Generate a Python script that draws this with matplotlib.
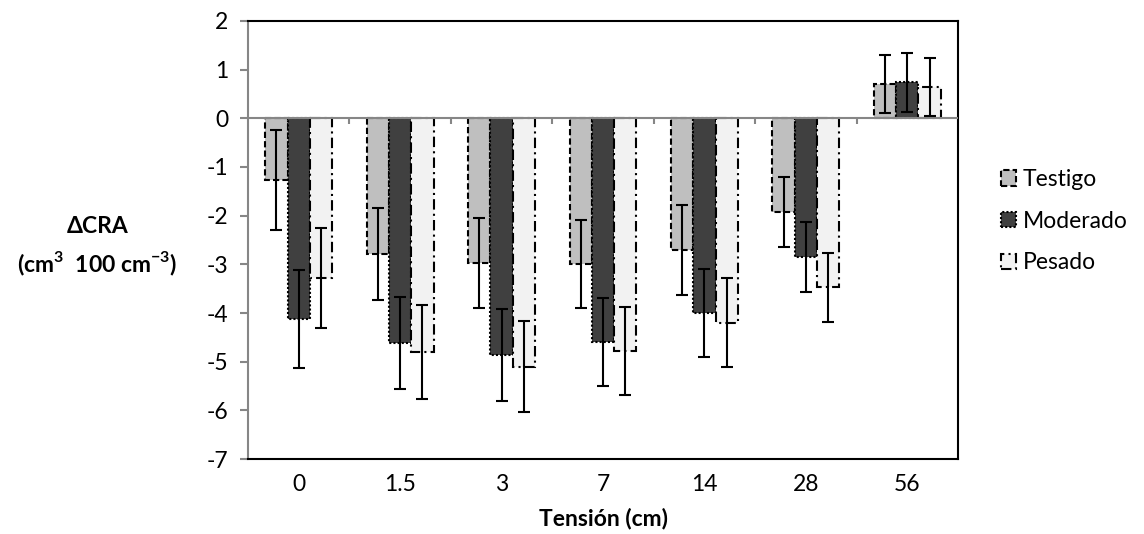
import numpy as np
import matplotlib.pyplot as plt

plt.rcParams['font.family'] = ['Lato', 'DejaVu Sans']
plt.rcParams['mathtext.fontset'] = 'custom'
plt.rcParams['mathtext.rm'] = 'Lato'
plt.rcParams['mathtext.bf'] = 'Lato:bold'
plt.rcParams['axes.unicode_minus'] = False

# Tension steps and change in water retention per treatment
tensiones = ['0', '1.5', '3', '7', '14', '28', '56']
testigo = [-1.27, -2.79, -2.97, -2.99, -2.70, -1.92, 0.70]
testigo_err = [1.03, 0.95, 0.93, 0.91, 0.92, 0.72, 0.60]
moderado = [-4.12, -4.62, -4.86, -4.59, -4.00, -2.84, 0.74]
moderado_err = [1.00, 0.95, 0.94, 0.90, 0.91, 0.72, 0.60]
pesado = [-3.28, -4.80, -5.10, -4.78, -4.20, -3.47, 0.64]
pesado_err = [1.03, 0.96, 0.93, 0.90, 0.91, 0.71, 0.60]

series = [
    ('Testigo', testigo, testigo_err, '#bfbfbf', (0, (3, 1.5))),
    ('Moderado', moderado, moderado_err, '#404040', (0, (1, 1))),
    ('Pesado', pesado, pesado_err, '#f2f2f2', (0, (5, 2, 1, 2))),
]

fs = 16.5

fig = plt.figure(figsize=(11.44, 5.34), dpi=100)
ax = fig.add_axes([0.2168, 0.1404, 0.6206, 0.8203])

x = np.arange(len(tensiones))
w = 0.22
for j, (name, vals, err, color, ls) in enumerate(series):
    pos = x + (j - 1) * w
    ax.bar(pos, vals, width=w, color=color, edgecolor='black', linewidth=1.5,
           linestyle=ls, label=name, zorder=2)
    ax.errorbar(pos, vals, yerr=err, fmt='none', ecolor='black',
                elinewidth=1.5, capsize=4.3, capthick=1.5, zorder=4)

# zero line with category separators
ax.axhline(0, color='#868686', lw=1.5, zorder=3)
ax.vlines(x[:-1] + 0.5, -0.12, 0, color='#868686', lw=1.5, zorder=3)

ax.set_xlim(-0.5, len(tensiones) - 0.5)
ax.set_ylim(-7, 2)
ax.set_yticks(range(-7, 3))
ax.set_xticks(x)
ax.set_xticklabels(tensiones)
ax.tick_params(axis='x', length=0, labelsize=fs, pad=11)
ax.tick_params(axis='y', length=6, width=1.5, color='#868686', labelsize=fs, pad=8)

for side in ['top', 'right', 'bottom']:
    ax.spines[side].set_color('black')
    ax.spines[side].set_linewidth(1.5)
ax.spines['left'].set_color('#868686')
ax.spines['left'].set_linewidth(1.5)

ax.set_xlabel('Tensión (cm)', fontsize=fs, fontweight='bold', labelpad=9)
fig.text(0.085, 0.575, 'ΔCRA', fontsize=fs, fontweight='bold',
         ha='center', va='center')
fig.text(0.085, 0.505, r'(cm$^{\mathbf{3}}$  100 cm$^{\mathbf{-3}}$)',
         fontsize=fs, fontweight='bold', ha='center', va='center')

fig.legend(loc='upper left', bbox_to_anchor=(0.865, 0.705), frameon=False,
           fontsize=fs, handlelength=0.65, handleheight=0.65,
           handletextpad=0.3, labelspacing=0.9, borderpad=0)

fig.savefig('out.png', dpi=100)
